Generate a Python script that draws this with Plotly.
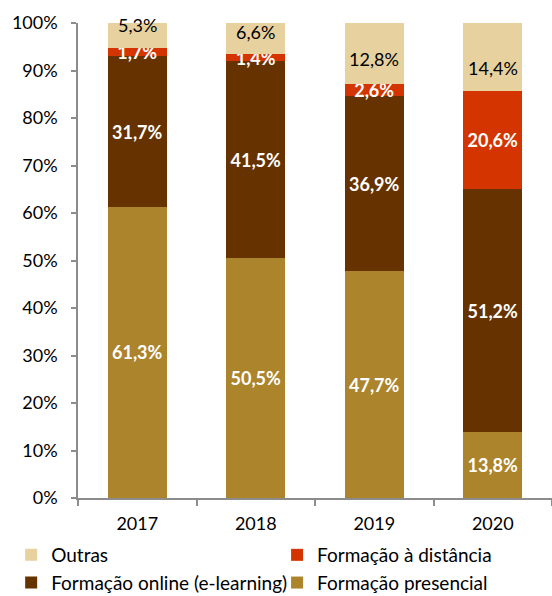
import plotly.graph_objects as go

# Share of training hours by delivery mode (%)
years = ["2017", "2018", "2019", "2020"]
presencial = [61.3, 50.5, 47.7, 13.8]
online = [31.7, 41.5, 36.9, 51.2]
distancia = [1.7, 1.4, 2.6, 20.6]
outras = [5.3, 6.6, 12.8, 14.4]

y_ticks = [0, 10, 20, 30, 40, 50, 60, 70, 80, 90, 100]
y_tick_text = [f"{v}%" for v in y_ticks]

FONT = "Lato"
AXIS_GRAY = "#8C8C8C"

series = [
    ("Formação presencial", presencial, "#AC842C", "legend2"),
    ("Formação online (e-learning)", online, "#663300", "legend"),
    ("Formação à distância", distancia, "#D43500", "legend2"),
    ("Outras", outras, "#E7D19F", "legend"),
]

fig = go.Figure()
for name, vals, color, leg in series:
    labelled_inside = name != "Outras"
    fig.add_trace(go.Bar(
        x=years,
        y=vals,
        name=name,
        legend=leg,
        legendgroup=name,
        marker=dict(color=color, line=dict(width=0)),
        texttemplate="<b>%{y:.1f}%</b>" if labelled_inside else None,
        textposition="inside" if labelled_inside else "none",
        insidetextanchor="middle",
        constraintext="none",
        textfont=dict(family=FONT, size=18, color="white"),
        textangle=0,
        hoverinfo="skip",
    ))

# "Outras" labels sit in the top band, nudged so they clear the thin red band below
outras_nudge = [11, 7, -6, -11]
for i, (p, o, d, top, dy) in enumerate(zip(presencial, online, distancia, outras, outras_nudge)):
    base = p + o + d
    fig.add_annotation(
        x=i, y=base + top / 2, xref="x", yref="y",
        text=f"{top:.1f}%".replace(".", ","),
        showarrow=False, yshift=dy,
        font=dict(family=FONT, size=18, color="black"),
    )

legend_common = dict(
    traceorder="reversed",
    orientation="v",
    font=dict(family=FONT, size=19, color="black"),
    bgcolor="rgba(0,0,0,0)",
    xanchor="left",
    yanchor="top",
    tracegroupgap=12,
    itemwidth=30,
)

fig.update_layout(
    width=552,
    height=596,
    barmode="stack",
    bargap=0.5,
    separators=",.",
    plot_bgcolor="white",
    paper_bgcolor="white",
    margin=dict(l=78, r=0, t=23, b=98, autoexpand=False),
    font=dict(family=FONT, size=18, color="black"),
    showlegend=True,
    legend=dict(x=-0.141, y=-0.08, **legend_common),
    legend2=dict(x=0.42, y=-0.08, **legend_common),
    xaxis=dict(
        type="category",
        automargin=False,
        showline=True,
        linecolor=AXIS_GRAY,
        linewidth=1.5,
        ticks="outside",
        tickson="boundaries",
        ticklen=6,
        tickcolor=AXIS_GRAY,
        tickwidth=1.5,
        showgrid=False,
        ticklabelstandoff=9,
        tickfont=dict(family=FONT, size=18, color="black"),
    ),
    yaxis=dict(
        automargin=False,
        range=[0, 100],
        tickvals=y_ticks,
        ticktext=y_tick_text,
        showline=True,
        linecolor=AXIS_GRAY,
        linewidth=1.5,
        ticks="outside",
        ticklen=5,
        tickcolor=AXIS_GRAY,
        tickwidth=1.5,
        showgrid=False,
        zeroline=False,
        ticklabelstandoff=10,
        tickfont=dict(family=FONT, size=18, color="black"),
    ),
)

fig.write_html("out.html")
